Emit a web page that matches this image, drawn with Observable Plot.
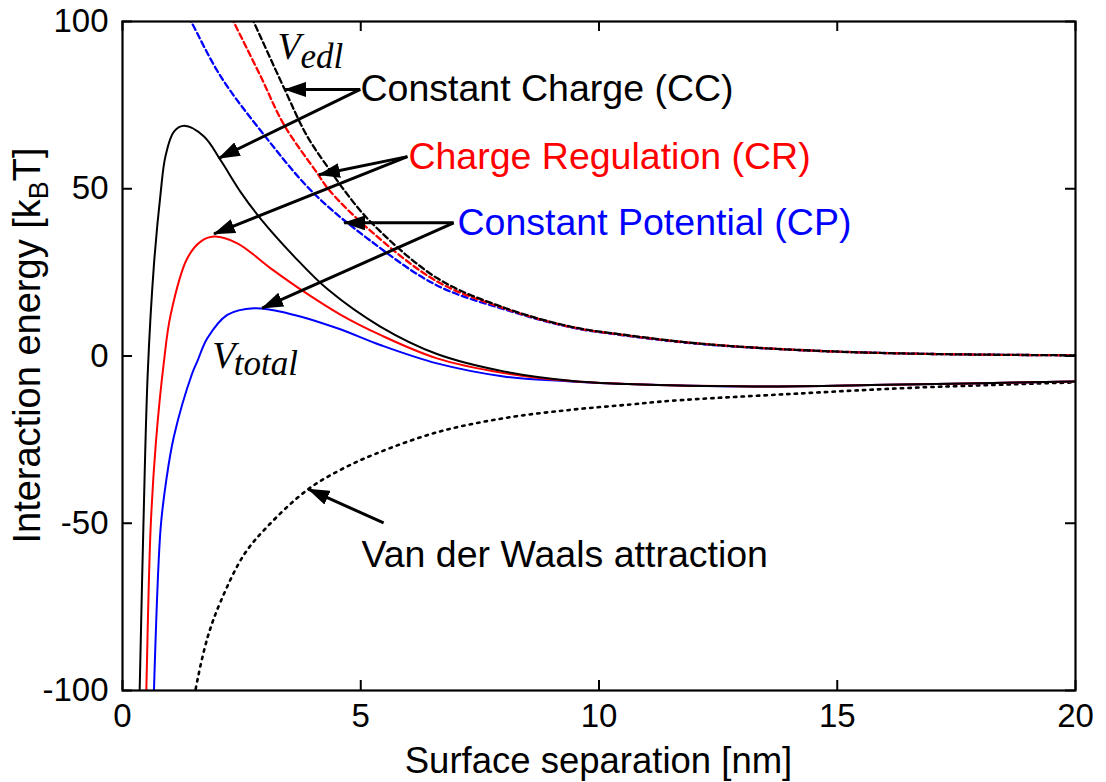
<!DOCTYPE html>
<html>
<head>
<meta charset="utf-8">
<script src="https://cdn.jsdelivr.net/npm/d3@7"></script>
<script src="https://cdn.jsdelivr.net/npm/@observablehq/plot@0.6"></script>
<style>
html,body{margin:0;padding:0;background:#fff;}
#chart svg{display:block;}
</style>
</head>
<body>
<div id="chart"></div>
<script>
// ---------- values ----------
const xTicks = [0, 5, 10, 15, 20];
const yTicks = [-100, -50, 0, 50, 100];

// electric double layer repulsion (dashed)   [x nm, energy kBT]
const edlCC = [[2.62,104],[2.76,99.7],[3.39,80.1],[3.88,65.6],[4.43,54.0],[4.64,49.8],[5.2,40.2],[6.6,23.3],[8.0,14.5],[9.4,8.8],[10.5,6.4],[12.2,3.6],[14.65,1.5],[17,0.6],[20,0.2]];
const edlCR = [[2.19,104],[2.34,99.7],[2.90,83.6],[3.39,69.1],[4.09,54.6],[4.33,49.7],[5.2,37.5],[6.6,22.3],[8.0,14.3],[9.4,8.7],[10.5,6.3],[12.2,3.6],[14.65,1.5],[17,0.6],[20,0.2]];
const edlCP = [[1.28,104],[1.45,99.7],[2.06,83.6],[2.97,66.1],[4.01,48.7],[5.2,34.5],[6.6,21.1],[8.0,14.0],[9.4,8.6],[10.5,6.2],[12.2,3.5],[14.65,1.5],[17,0.6],[20,0.2]];

// total interaction (solid)
const totalCC = [[0.34,-112],[0.36,-100],[0.44,-50],[0.53,-5],[0.66,27.3],[0.80,48.7],[0.90,59.6],[1.08,67.1],[1.30,68.8],[1.71,65.6],[2.06,58.5],[2.48,49.0],[2.90,41.0],[3.60,29.8],[4.30,20.0],[5.41,8.8],[6.60,0.6],[8.0,-4.6],[9.4,-7.4],[10.6,-8.4],[13.25,-9.1],[16.05,-8.6],[20,-7.6]];
const totalCR = [[0.48,-112],[0.50,-100],[0.59,-51.5],[0.70,-26],[0.87,-1.6],[1.01,12.3],[1.36,29.2],[1.64,34.2],[1.92,35.7],[2.41,33.7],[3.11,26.2],[3.80,19.3],[4.58,12.3],[5.41,6.3],[6.60,-0.7],[8.0,-5.1],[9.4,-7.5],[10.6,-8.4],[13.25,-9.1],[16.05,-8.6],[20,-7.6]];
const totalCP = [[0.64,-112],[0.66,-100],[0.80,-51.5],[0.92,-37],[1.08,-24],[1.46,-5.3],[1.57,-1.6],[1.78,5.3],[2.20,12.3],[2.76,14.3],[3.46,12.8],[4.51,8.3],[5.41,3.3],[6.60,-2.2],[8.0,-6.1],[9.4,-7.6],[10.6,-8.4],[13.25,-9.1],[16.05,-8.6],[20,-7.6]];

// van der Waals attraction (dotted)
const vdw = [[1.49,-104],[1.53,-100],[1.78,-84.4],[2.06,-73.4],[2.55,-59.4],[3.04,-51.0],[3.88,-40.0],[4.58,-34.0],[5.3,-29.3],[6.6,-22.8],[8.0,-18.6],[9.4,-16.1],[10.66,-14.5],[11.5,-13.4],[13.95,-11.4],[16.75,-9.4],[20,-7.9]];

// annotation arrows (data coordinates)
const arrowFromX = [4.99, 4.99, 5.98, 5.98, 6.95, 6.95, 5.48];
const arrowFromY = [79.7, 79.7, 59.6, 59.6, 39.8, 39.8, -49.9];
const arrowToX   = [3.41, 2.02, 4.12, 1.92, 4.65, 2.93, 3.90];
const arrowToY   = [79.7, 59.1, 54.2, 36.5, 39.8, 14.3, -39.8];

// annotation labels
const labelText  = ["Constant Charge (CC)", "Charge Regulation (CR)", "Constant Potential (CP)", "Van der Waals attraction"];
const labelX     = [4.995, 6.00, 7.03, 5.016];
const labelY     = [79.7, 59.6, 39.9, -59.6];
const labelColor = ["black", "red", "blue", "black"];

// math labels  V_edl , V_total
const mathBase  = ["V", "V"];
const mathBaseX = [3.253, 1.882];
const mathBaseY = [88.7, -3.65];
const mathSub   = ["edl", "total"];
const mathSubX  = [3.736, 2.336];
const mathSubY  = [86.0, -5.62];

// ---------- chart ----------
const W = 1106, H = 782;
const ML = 122, MR = 31, MT = 21, MB = 92;
const PW = W - ML - MR, PH = H - MT - MB;
const SANS = "'Liberation Sans', Arial, Helvetica, sans-serif";
const SERIF = "'Liberation Serif', 'Times New Roman', serif";

const pts = arr => arr.map(([x, y]) => ({x, y}));
const arrows = arrowFromX.map((d, i) => ({x1: d, y1: arrowFromY[i], x2: arrowToX[i], y2: arrowToY[i]}));
const labels = labelText.map((t, i) => ({t, x: labelX[i], y: labelY[i], c: labelColor[i]}));
const mBase = mathBase.map((t, i) => ({t, x: mathBaseX[i], y: mathBaseY[i]}));
const mSub = mathSub.map((t, i) => ({t, x: mathSubX[i], y: mathSubY[i]}));

const dash = {x: "x", y: "y", strokeWidth: 2.3, strokeDasharray: "6,3.5", curve: "catmull-rom", clip: true};
const solid = {x: "x", y: "y", strokeWidth: 2, curve: "catmull-rom", clip: true};

const plot = Plot.plot({
  width: W, height: H,
  marginLeft: ML, marginRight: MR, marginTop: MT, marginBottom: MB,
  style: {fontFamily: SANS, fontSize: "33px", background: "#fff", color: "black"},
  x: {domain: [0, 20], ticks: xTicks, tickSize: 0, tickPadding: 13, tickFormat: d => String(d), label: null},
  y: {domain: [-100, 100], ticks: yTicks, tickSize: 0, tickPadding: 14, tickFormat: d => String(d), label: null},
  marks: [
    Plot.line(pts(edlCP), {...dash, stroke: "blue"}),
    Plot.line(pts(edlCR), {...dash, stroke: "red"}),
    Plot.line(pts(edlCC), {...dash, stroke: "black"}),
    Plot.line(pts(vdw), {x: "x", y: "y", stroke: "black", strokeWidth: 2.6, strokeDasharray: "2.4,5.2", curve: "catmull-rom", clip: true}),
    Plot.line(pts(totalCP), {...solid, stroke: "blue"}),
    Plot.line(pts(totalCR), {...solid, stroke: "red"}),
    Plot.line(pts(totalCC), {...solid, stroke: "black"}),
    Plot.link(arrows, {x1: "x1", y1: "y1", x2: "x2", y2: "y2", stroke: "black", strokeWidth: 3}),
    Plot.text(labels, {x: "x", y: "y", text: "t", fill: "c", textAnchor: "start", lineAnchor: "middle", fontSize: 37.5, fontFamily: SANS}),
    Plot.text(mBase, {x: "x", y: "y", text: "t", fill: "black", textAnchor: "start", lineAnchor: "bottom", fontSize: 38, fontFamily: SERIF, fontStyle: "italic"}),
    Plot.text(mSub, {x: "x", y: "y", text: "t", fill: "black", textAnchor: "start", lineAnchor: "bottom", fontSize: 35, fontFamily: SERIF, fontStyle: "italic"}),
    Plot.tickY(yTicks, {y: d => d, insetRight: PW - 10, stroke: "black", strokeWidth: 2}),
    Plot.tickY(yTicks, {y: d => d, insetLeft: PW - 10, stroke: "black", strokeWidth: 2}),
    Plot.tickX(xTicks, {x: d => d, insetTop: PH - 10, stroke: "black", strokeWidth: 2}),
    Plot.tickX(xTicks, {x: d => d, insetBottom: PH - 10, stroke: "black", strokeWidth: 2}),
    Plot.frame({stroke: "black", strokeWidth: 2.2})
  ]
});

const svg = d3.select(plot);
// filled arrow heads
const defs = svg.insert("defs", ":first-child");
defs.append("marker")
  .attr("id", "fillArrow")
  .attr("viewBox", "0 0 22 15")
  .attr("refX", 21).attr("refY", 7.5)
  .attr("markerWidth", 22).attr("markerHeight", 15)
  .attr("markerUnits", "userSpaceOnUse")
  .attr("orient", "auto")
  .append("path").attr("d", "M0,0L22,7.5L0,15Z").attr("fill", "black");
svg.selectAll('g[aria-label="link"] path').attr("marker-end", "url(#fillArrow)");

// axis titles
svg.append("text")
  .attr("x", ML + PW / 2).attr("y", 773)
  .attr("text-anchor", "middle")
  .attr("font-family", SANS).attr("font-size", 36.5).attr("fill", "black")
  .text("Surface separation [nm]");

const yl = svg.append("text")
  .attr("transform", "translate(40," + (MT + PH / 2 - 10) + ") rotate(-90)")
  .attr("text-anchor", "middle")
  .attr("font-family", SANS).attr("font-size", 38).attr("fill", "black");
yl.append("tspan").text("Interaction energy [k");
yl.append("tspan").attr("font-size", 27).attr("dy", 8).text("B");
yl.append("tspan").attr("dy", -8).text("T]");

document.getElementById("chart").appendChild(plot);
</script>
</body>
</html>
